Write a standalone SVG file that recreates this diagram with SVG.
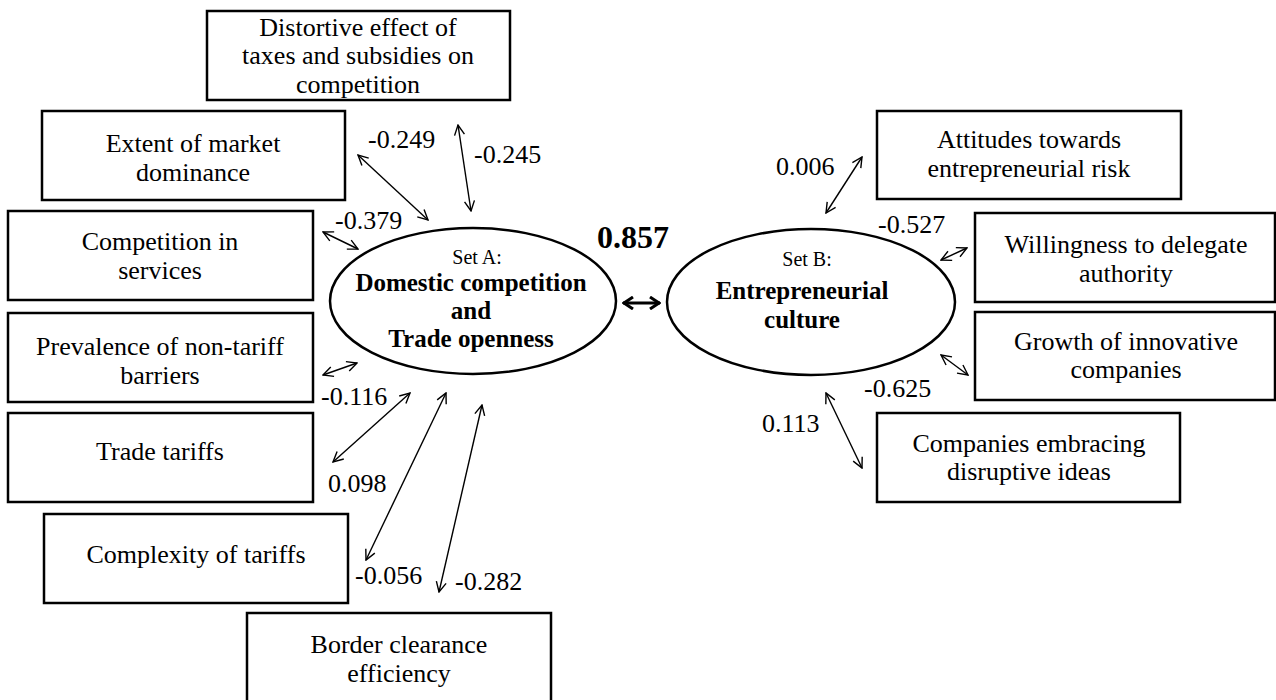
<svg xmlns="http://www.w3.org/2000/svg" width="1276" height="700" viewBox="0 0 1276 700">
  <style>
    .box { fill: #fff; stroke: #000; stroke-width: 2.5; }
    .oval { fill: #fff; stroke: #000; stroke-width: 2.5; }
    .t { font-family: "Liberation Serif", "Times New Roman", serif; font-size: 26px; fill: #000; text-anchor: middle; }
    .lbl { font-family: "Liberation Serif", "Times New Roman", serif; font-size: 26px; fill: #000; }
    .small { font-family: "Liberation Serif", "Times New Roman", serif; font-size: 20px; fill: #000; text-anchor: middle; }
    .bold { font-family: "Liberation Serif", "Times New Roman", serif; font-size: 25px; font-weight: bold; fill: #000; text-anchor: middle; }
    .link { fill: none; stroke: #000; stroke-width: 1.4; marker-start: url(#tip); marker-end: url(#tip); }
    .main { fill: none; stroke: #000; stroke-width: 3; marker-start: url(#tipBold); marker-end: url(#tipBold); }
  </style>
  <defs>
    <marker id="tip" viewBox="0 0 12 12" refX="11" refY="6" markerWidth="12" markerHeight="12" markerUnits="userSpaceOnUse" orient="auto-start-reverse">
      <path d="M1,1 L11,6 L1,11" fill="none" stroke="#000" stroke-width="1.4"/>
    </marker>
    <marker id="tipBold" viewBox="0 0 12 14" refX="11" refY="7" markerWidth="12" markerHeight="14" markerUnits="userSpaceOnUse" orient="auto-start-reverse">
      <path d="M1,1 L10,7 L1,13" fill="none" stroke="#000" stroke-width="3"/>
    </marker>
  </defs>

  <rect width="1276" height="700" fill="#fff"/>

  <!-- Set A indicators -->
  <g id="distortive">
    <rect class="box" x="207" y="11" width="303" height="89"/>
    <text class="t" x="358" y="36">Distortive effect of</text>
    <text class="t" x="358" y="64">taxes and subsidies on</text>
    <text class="t" x="358" y="93">competition</text>
  </g>
  <g id="market-dominance">
    <rect class="box" x="42" y="111" width="303" height="89"/>
    <text class="t" x="193" y="152">Extent of market</text>
    <text class="t" x="193" y="181">dominance</text>
  </g>
  <g id="competition-services">
    <rect class="box" x="8" y="211" width="305" height="89"/>
    <text class="t" x="160" y="250">Competition in</text>
    <text class="t" x="160" y="279">services</text>
  </g>
  <g id="non-tariff-barriers">
    <rect class="box" x="8" y="313" width="305" height="89"/>
    <text class="t" x="160" y="355">Prevalence of non-tariff</text>
    <text class="t" x="160" y="384">barriers</text>
  </g>
  <g id="trade-tariffs">
    <rect class="box" x="8" y="413" width="305" height="89"/>
    <text class="t" x="160" y="460">Trade tariffs</text>
  </g>
  <g id="tariff-complexity">
    <rect class="box" x="44" y="514" width="304" height="89"/>
    <text class="t" x="196" y="563">Complexity of tariffs</text>
  </g>
  <g id="border-clearance">
    <rect class="box" x="247" y="613" width="304" height="90"/>
    <text class="t" x="399" y="653">Border clearance</text>
    <text class="t" x="399" y="682">efficiency</text>
  </g>

  <!-- Set B indicators -->
  <g id="risk-attitudes">
    <rect class="box" x="877" y="111" width="304" height="88"/>
    <text class="t" x="1029" y="148">Attitudes towards</text>
    <text class="t" x="1029" y="177">entrepreneurial risk</text>
  </g>
  <g id="delegate-authority">
    <rect class="box" x="975" y="213" width="300" height="89"/>
    <text class="t" x="1126" y="253">Willingness to delegate</text>
    <text class="t" x="1126" y="282">authority</text>
  </g>
  <g id="innovative-companies">
    <rect class="box" x="975" y="312" width="300" height="88"/>
    <text class="t" x="1126" y="350">Growth of innovative</text>
    <text class="t" x="1126" y="378">companies</text>
  </g>
  <g id="disruptive-ideas">
    <rect class="box" x="877" y="413" width="303" height="89"/>
    <text class="t" x="1029" y="452">Companies embracing</text>
    <text class="t" x="1029" y="480">disruptive ideas</text>
  </g>

  <!-- Canonical variates -->
  <g id="set-a">
    <ellipse class="oval" cx="473" cy="301" rx="143" ry="73"/>
    <text class="small" x="477" y="264">Set A:</text>
    <text class="bold" x="471" y="291">Domestic competition</text>
    <text class="bold" x="471" y="319">and</text>
    <text class="bold" x="471" y="347">Trade openness</text>
  </g>
  <g id="set-b">
    <ellipse class="oval" cx="811" cy="302" rx="144" ry="73"/>
    <text class="small" x="807" y="266">Set B:</text>
    <text class="bold" x="802" y="299">Entrepreneurial</text>
    <text class="bold" x="802" y="328">culture</text>
  </g>

  <!-- Correlation connectors -->
  <g id="connectors">
    <line class="main" x1="623" y1="303" x2="660" y2="303"/>
    <line class="link" x1="458" y1="125" x2="471" y2="211"/>
    <line class="link" x1="358" y1="155" x2="428" y2="220"/>
    <line class="link" x1="323" y1="232" x2="358" y2="249"/>
    <line class="link" x1="323" y1="375" x2="357" y2="363"/>
    <line class="link" x1="410" y1="393" x2="333" y2="462"/>
    <line class="link" x1="446" y1="393" x2="366" y2="560"/>
    <line class="link" x1="482" y1="405" x2="439" y2="592"/>
    <line class="link" x1="826" y1="213" x2="862" y2="157"/>
    <line class="link" x1="941" y1="260" x2="967" y2="248"/>
    <line class="link" x1="941" y1="355" x2="968" y2="375"/>
    <line class="link" x1="826" y1="393" x2="862" y2="468"/>
  </g>

  <!-- Coefficients -->
  <g id="coefficients">
    <text x="597" y="248" font-family="Liberation Serif, Times New Roman, serif" font-size="32" font-weight="bold">0.857</text>
    <text class="lbl" x="368" y="148">-0.249</text>
    <text class="lbl" x="474" y="163">-0.245</text>
    <text class="lbl" x="335" y="229">-0.379</text>
    <text class="lbl" x="321" y="405">-0.116</text>
    <text class="lbl" x="328" y="492">0.098</text>
    <text class="lbl" x="355" y="584">-0.056</text>
    <text class="lbl" x="455" y="590">-0.282</text>
    <text class="lbl" x="776" y="175">0.006</text>
    <text class="lbl" x="878" y="233">-0.527</text>
    <text class="lbl" x="864" y="397">-0.625</text>
    <text class="lbl" x="762" y="432">0.113</text>
  </g>
</svg>
